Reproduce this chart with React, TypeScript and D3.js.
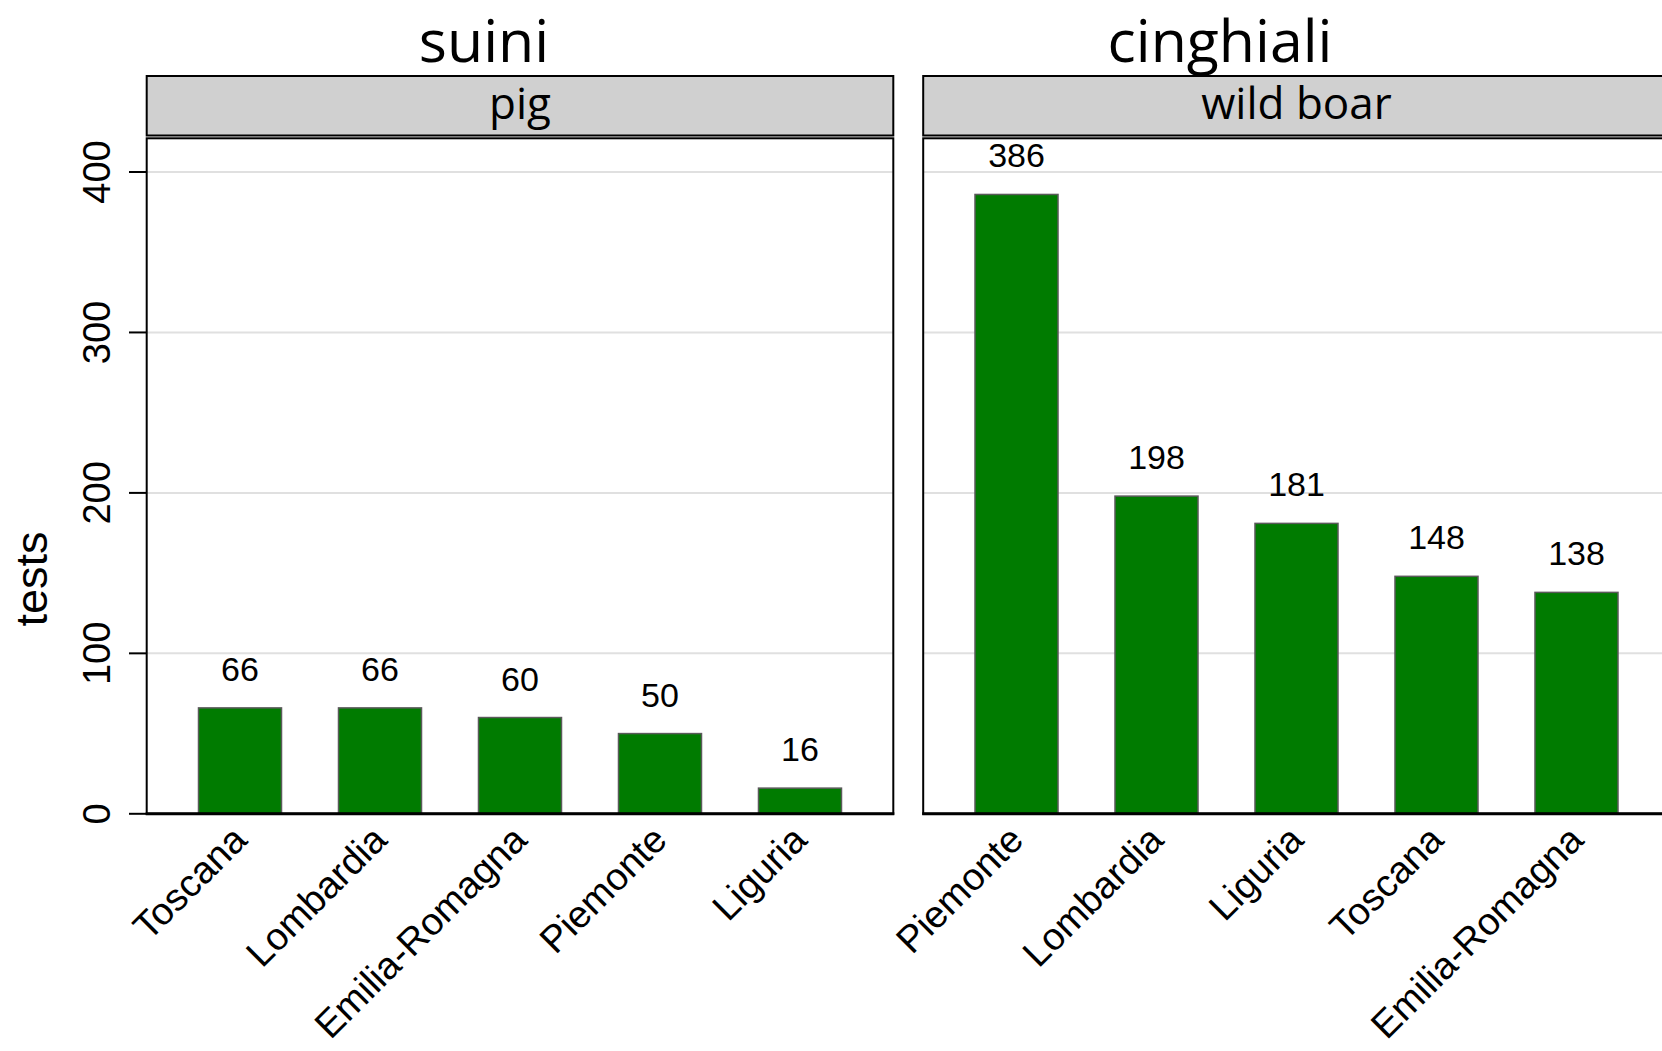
import React from "react";
import * as d3 from "d3";

const pigRegions = ["Toscana", "Lombardia", "Emilia-Romagna", "Piemonte", "Liguria"];
const pigTests = [66, 66, 60, 50, 16];
const boarRegions = ["Piemonte", "Lombardia", "Liguria", "Toscana", "Emilia-Romagna"];
const boarTests = [386, 198, 181, 148, 138];
const yTicks = [0, 100, 200, 300, 400];
const titles = ["suini", "cinghiali"];
const stripLabels = ["pig", "wild boar"];
const yLabel = "tests";

const W = 1662;
const H = 1051;
const panelW = 746.6;
const panelX = [146.7, 923.2];
const titleX = [484, 1220];
const panelTop = 138.3;
const zeroY = 813.8;
const stripTop = 76;
const stripBottom = 135.5;

const y = d3.scaleLinear().domain([0, 421]).range([zeroY, panelTop]);

const ARIAL = "'Liberation Sans', Arial, sans-serif";
const TITLE_FONT = "'Open Sans', sans-serif";

function Panel({ idx, regions, values }: { idx: number; regions: string[]; values: number[] }) {
  const x0 = panelX[idx];
  const x = d3
    .scaleBand<string>()
    .domain(regions)
    .range([x0, x0 + panelW])
    .paddingInner(0.407)
    .paddingOuter(0.37);
  const bw = x.bandwidth();
  return (
    <g>
      {/* title */}
      <text x={titleX[idx]} y={62} textAnchor="middle" fontFamily={TITLE_FONT} fontSize={59} fill="#000">
        {titles[idx]}
      </text>
      {/* strip */}
      <rect x={x0} y={stripTop} width={panelW} height={stripBottom - stripTop} fill="#d0d0d0" stroke="#000" strokeWidth={2} />
      <text x={x0 + panelW / 2} y={119} textAnchor="middle" fontFamily={TITLE_FONT} fontSize={44} fill="#000">
        {stripLabels[idx]}
      </text>
      {/* panel background */}
      <rect x={x0} y={panelTop} width={panelW} height={zeroY - panelTop} fill="#fff" />
      {/* gridlines */}
      {yTicks.filter((t) => t > 0).map((t) => (
        <line key={t} x1={x0} x2={x0 + panelW} y1={y(t)} y2={y(t)} stroke="#e0e0e0" strokeWidth={2} />
      ))}
      {/* bars */}
      {regions.map((r, i) => (
        <rect
          key={r}
          x={x(r)!}
          y={y(values[i])}
          width={bw}
          height={zeroY - y(values[i])}
          fill="#007b00"
          stroke="#5a5a5a"
          strokeWidth={1.5}
        />
      ))}
      {/* value labels */}
      {regions.map((r, i) => (
        <text
          key={r + "v"}
          x={x(r)! + bw / 2}
          y={y(values[i]) - 27}
          textAnchor="middle"
          fontFamily={ARIAL}
          fontSize={34}
          fill="#000"
        >
          {values[i]}
        </text>
      ))}
      {/* panel border */}
      <rect x={x0} y={panelTop} width={panelW} height={zeroY - panelTop} fill="none" stroke="#000" strokeWidth={2} />
      <line x1={x0 - 1} x2={x0 + panelW + 1} y1={zeroY} y2={zeroY} stroke="#000" strokeWidth={3} />
      {/* x labels */}
      {regions.map((r) => {
        const cx = x(r)! + bw / 2 + 9;
        const cy = 842;
        return (
          <text
            key={r + "x"}
            x={cx}
            y={cy}
            textAnchor="end"
            transform={`rotate(-45, ${cx}, ${cy})`}
            fontFamily={ARIAL}
            fontSize={38}
            fill="#000"
          >
            {r}
          </text>
        );
      })}
    </g>
  );
}

export default function App() {
  return (
    <svg
      width={W}
      height={H}
      viewBox={`0 0 ${W} ${H}`}
      style={{ position: "absolute", left: 0, top: 0, background: "#fff" }}
    >
      <rect x={0} y={0} width={W} height={H} fill="#fff" />
      <Panel idx={0} regions={pigRegions} values={pigTests} />
      <Panel idx={1} regions={boarRegions} values={boarTests} />
      {/* y axis ticks */}
      {yTicks.map((t) => (
        <g key={t}>
          <line x1={129} x2={146.7} y1={y(t)} y2={y(t)} stroke="#000" strokeWidth={2} />
          <text
            x={110}
            y={y(t)}
            textAnchor="middle"
            transform={`rotate(-90, 110, ${y(t)})`}
            fontFamily={ARIAL}
            fontSize={38}
            fill="#000"
          >
            {t}
          </text>
        </g>
      ))}
      <text
        x={46.7}
        y={579}
        textAnchor="middle"
        transform="rotate(-90, 46.7, 579)"
        fontFamily={ARIAL}
        fontSize={45}
        fill="#000"
      >
        {yLabel}
      </text>
    </svg>
  );
}
